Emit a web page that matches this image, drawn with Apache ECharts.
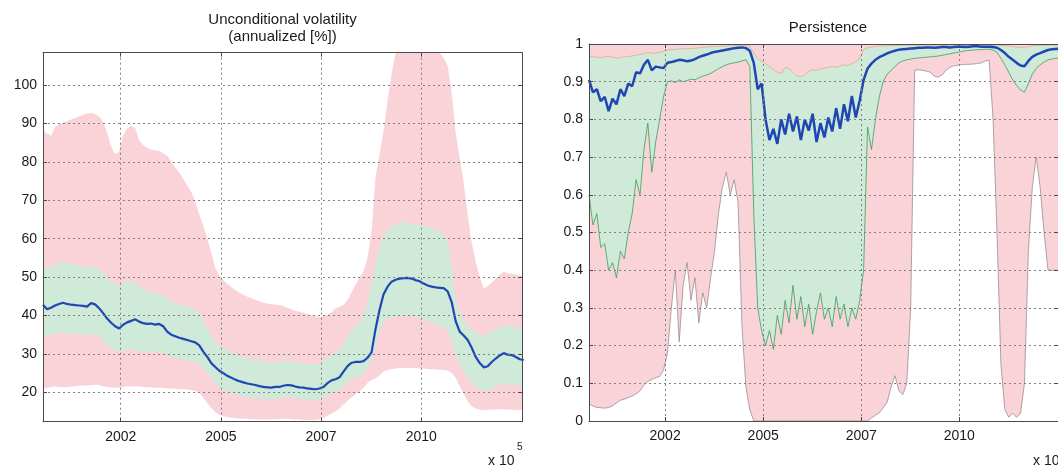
<!DOCTYPE html>
<html>
<head>
<meta charset="utf-8">
<script src="https://cdn.jsdelivr.net/npm/echarts@6/dist/echarts.min.js"></script>
<style>
  html, body { margin: 0; padding: 0; background: #fff; }
  #chart { width: 1058px; height: 468px; }
</style>
</head>
<body>
<div id="chart"></div>
<script>
// Sampling: MATLAB datenum of the first sample and days between samples
const START = 730224;
const STEP = 40;
const X_MIN = 730224;
const X_MAX = 735006;

const xTickValues = [731000, 732000, 733000, 734000];
const xTickLabels = ['2002', '2005', '2007', '2010'];
const volTicks = [20, 30, 40, 50, 60, 70, 80, 90, 100];
const persTicks = [0, 0.1, 0.2, 0.3, 0.4, 0.5, 0.6, 0.7, 0.8, 0.9, 1];

// Unconditional volatility (annualized, %)
const volMid = [
  42.8, 41.6, 42.0, 42.6, 43.0, 43.3, 43.0, 42.8, 42.7, 42.6,
  42.5, 42.3, 43.2, 42.9, 41.9, 40.6, 39.2, 38.1, 37.2, 36.6,
  37.6, 38.2, 38.6, 39.0, 38.4, 38.0, 37.8, 37.9, 37.6, 37.8,
  37.2, 35.8, 35.0, 34.6, 34.2, 33.9, 33.6, 33.3, 33.0, 32.2,
  30.6, 29.2, 27.6, 26.6, 25.6, 25.0, 24.3, 23.8, 23.3, 22.9,
  22.6, 22.3, 22.1, 21.9, 21.6, 21.4, 21.3, 21.2, 21.4, 21.4,
  21.7, 21.9, 21.8, 21.5, 21.3, 21.2, 21.0, 20.9, 20.8, 21.0,
  21.4, 22.4, 23.1, 23.4, 23.9, 25.4, 26.8, 27.7, 27.9, 27.9,
  28.1, 29.0, 30.4, 36.5, 41.5, 45.5, 47.5, 48.8, 49.3, 49.6,
  49.7, 49.8, 49.6, 49.2, 48.9, 48.3, 47.8, 47.5, 47.3, 47.2,
  47.1, 46.3, 43.5, 38.5, 35.8, 34.8, 33.6, 31.6, 29.2, 27.6,
  26.5, 26.8, 27.9, 28.8, 29.6, 30.2, 29.8, 29.7, 29.2, 28.6,
  28.4
];
const volInnerHi = [
  53.2, 52.0, 52.6, 53.3, 53.6, 53.8, 53.5, 53.4, 53.0, 52.8,
  52.6, 52.4, 52.8, 52.5, 52.2, 51.0, 49.6, 48.8, 48.3, 47.8,
  48.6, 48.9, 48.8, 48.6, 47.6, 47.0, 46.2, 45.9, 45.8, 45.6,
  45.2, 44.3, 43.8, 43.2, 42.8, 42.6, 42.4, 42.0, 41.4, 40.4,
  38.6, 36.5, 34.4, 33.0, 32.2, 31.6, 31.0, 30.4, 29.9, 29.5,
  29.2, 28.9, 28.6, 28.4, 28.2, 28.0, 27.8, 27.7, 27.8, 27.9,
  28.1, 28.2, 28.0, 27.9, 27.7, 27.6, 27.4, 27.3, 27.3, 27.6,
  28.0, 29.0, 29.8, 30.4, 31.2, 32.8, 34.6, 36.0, 37.0, 38.0,
  40.0, 43.5, 48.0, 53.5, 58.0, 60.5, 62.0, 63.0, 63.8, 64.2,
  64.4, 64.2, 63.8, 63.6, 63.5, 63.4, 63.0, 62.8, 62.4, 61.8,
  61.2, 59.5, 52.0, 44.0, 40.5, 39.0, 37.6, 36.4, 35.5, 35.0,
  34.8, 35.2, 35.9, 36.5, 37.0, 37.4, 37.3, 37.2, 37.0, 36.7,
  36.5
];
const volInnerLo = [
  35.4, 34.8, 35.0, 35.2, 35.4, 35.5, 35.4, 35.3, 35.2, 35.1,
  35.0, 34.9, 35.2, 35.0, 34.7, 33.4, 32.2, 31.4, 30.9, 30.5,
  30.9, 31.1, 31.1, 31.0, 30.7, 30.6, 30.4, 30.5, 30.4, 30.6,
  30.2, 29.6, 29.2, 28.9, 28.6, 28.4, 28.2, 28.0, 27.8, 27.4,
  26.2, 24.9, 23.6, 22.4, 21.5, 20.8, 20.3, 19.9, 19.5, 19.1,
  18.9, 18.7, 18.6, 18.5, 18.4, 18.3, 18.2, 18.2, 18.3, 18.4,
  18.6, 18.7, 18.6, 18.4, 18.3, 18.2, 18.1, 18.0, 18.0, 18.2,
  18.5, 19.2, 19.8, 20.2, 20.6, 21.6, 22.6, 23.4, 23.8, 24.2,
  24.8, 26.4, 28.4, 32.0, 36.0, 38.2, 39.2, 39.6, 39.8, 40.0,
  40.0, 40.0, 39.8, 39.6, 39.4, 39.0, 38.6, 38.2, 37.8, 37.4,
  36.8, 35.8, 33.0, 29.6, 27.2, 25.5, 23.8, 22.6, 21.6, 20.8,
  20.3, 20.5, 21.0, 21.6, 22.0, 22.3, 22.2, 22.0, 21.9, 21.7,
  21.6
];
const volOuterHi = [
  88.3, 87.4, 86.8, 89.0, 89.8, 90.2, 90.6, 91.0, 91.4, 91.8,
  92.2, 92.6, 92.8, 92.4, 91.8, 90.4, 87.6, 84.0, 82.0, 82.6,
  87.0, 88.6, 89.4, 88.8, 85.6, 84.4, 83.6, 83.2, 83.0, 82.8,
  82.2, 81.6, 80.0, 78.6, 77.2, 75.6, 73.8, 72.2, 69.6, 66.4,
  63.4, 60.0, 56.4, 52.4, 50.4, 49.2, 48.2, 47.4, 46.6, 45.9,
  45.4, 44.9, 44.5, 44.1, 43.7, 43.4, 43.1, 42.9, 42.8, 42.7,
  42.4, 42.0, 41.6, 41.2, 41.0, 40.7, 40.4, 40.1, 39.8, 39.6,
  39.8, 40.2, 40.8, 41.8, 42.2, 42.8, 44.0, 46.0, 48.0, 49.8,
  51.5, 55.0, 62.0, 76.0, 82.0, 88.0, 96.0, 103.0, 108.4, 108.4,
  108.4, 108.4, 108.4, 108.4, 108.4, 108.4, 108.4, 108.4, 108.4, 108.4,
  107.0, 105.0, 98.0, 87.5, 81.0, 74.5, 66.0, 59.0, 54.0, 50.0,
  47.0, 47.6, 48.6, 49.6, 50.6, 51.4, 51.0, 50.8, 50.6, 50.4,
  50.3
];
const volOuterLo = [
  21.0, 21.2, 21.4, 21.5, 21.4, 21.3, 21.4, 21.5, 21.6, 21.7,
  21.8, 21.8, 21.9, 22.0, 21.9, 21.6, 21.4, 21.3, 21.2, 21.2,
  21.4, 21.6, 21.6, 21.5, 21.5, 21.4, 21.3, 21.3, 21.2, 21.2,
  21.1, 21.0, 21.0, 20.9, 20.8, 20.8, 20.7, 20.6, 20.4, 20.0,
  18.6, 17.2, 16.0, 14.8, 14.2, 13.8, 13.6, 13.4, 13.3, 13.2,
  13.1, 13.1, 13.0, 13.0, 12.9, 12.9, 12.9, 12.9, 13.0, 13.0,
  13.1, 13.1, 13.0, 12.9, 12.9, 12.8, 12.8, 12.8, 12.8, 13.0,
  13.3, 13.9, 14.4, 15.0, 15.8, 16.8, 17.8, 18.6, 19.4, 20.2,
  21.2, 22.4, 23.2, 23.6, 24.4, 25.4, 25.8, 26.0, 26.2, 26.3,
  26.3, 26.3, 26.3, 26.3, 26.2, 26.2, 26.1, 26.0, 26.0, 25.9,
  25.8, 25.6, 25.0, 23.8, 21.6, 19.6, 17.6, 16.4, 15.8, 15.5,
  15.4, 15.4, 15.5, 15.5, 15.6, 15.6, 15.5, 15.5, 15.4, 15.4,
  15.4
];

// Persistence
const persMid = [
  0.905, 0.872, 0.880, 0.848, 0.860, 0.822, 0.855, 0.840, 0.880, 0.862,
  0.895, 0.888, 0.925, 0.922, 0.945, 0.958, 0.930, 0.940, 0.938, 0.936,
  0.950, 0.952, 0.955, 0.958, 0.957, 0.954, 0.956, 0.960, 0.965, 0.969,
  0.972, 0.976, 0.979, 0.981, 0.983, 0.985, 0.987, 0.989, 0.990, 0.991,
  0.989, 0.982, 0.950, 0.880, 0.895, 0.800, 0.745, 0.775, 0.735, 0.800,
  0.760, 0.815, 0.768, 0.808, 0.745, 0.800, 0.770, 0.815, 0.740, 0.790,
  0.752, 0.805, 0.768, 0.830, 0.775, 0.840, 0.795, 0.862, 0.805, 0.850,
  0.905, 0.935, 0.948, 0.958, 0.965, 0.970, 0.975, 0.979, 0.982, 0.985,
  0.986, 0.987, 0.988, 0.989, 0.990, 0.990, 0.991, 0.991, 0.990, 0.991,
  0.992, 0.992, 0.991, 0.992, 0.993, 0.993, 0.992, 0.993, 0.994, 0.994,
  0.993, 0.993, 0.993, 0.992, 0.990, 0.984, 0.976, 0.966, 0.958, 0.950,
  0.943, 0.941, 0.955, 0.966, 0.972, 0.976, 0.980, 0.984, 0.986, 0.987,
  0.988
];
const persInnerHi = [
  0.968, 0.966, 0.965, 0.964, 0.966, 0.967, 0.965, 0.963, 0.964, 0.966,
  0.967, 0.968, 0.970, 0.972, 0.975, 0.978, 0.975, 0.976, 0.978, 0.980,
  0.984, 0.985, 0.986, 0.987, 0.987, 0.988, 0.988, 0.989, 0.990, 0.991,
  0.992, 0.993, 0.993, 0.994, 0.994, 0.995, 0.995, 0.996, 0.996, 0.996,
  0.996, 0.994, 0.975, 0.962, 0.955, 0.948, 0.940, 0.932, 0.925, 0.922,
  0.938, 0.935, 0.925, 0.915, 0.913, 0.918, 0.928, 0.932, 0.930, 0.934,
  0.936, 0.938, 0.940, 0.938, 0.942, 0.945, 0.943, 0.948, 0.952, 0.962,
  0.985, 0.990, 0.992, 0.993, 0.994, 0.995, 0.995, 0.996, 0.996, 0.996,
  0.997, 0.997, 0.997, 0.997, 0.997, 0.997, 0.997, 0.997, 0.997, 0.997,
  0.997, 0.997, 0.997, 0.997, 0.997, 0.997, 0.997, 0.997, 0.997, 0.997,
  0.997, 0.997, 0.997, 0.997, 0.997, 0.996, 0.995, 0.994, 0.993, 0.992,
  0.991, 0.991, 0.993, 0.995, 0.996, 0.996, 0.997, 0.997, 0.997, 0.997,
  0.997
];
const persInnerLo = [
  0.60, 0.52, 0.55, 0.46, 0.47, 0.40, 0.42, 0.38, 0.45, 0.43,
  0.50, 0.55, 0.64, 0.60, 0.72, 0.79, 0.66, 0.74, 0.80, 0.86,
  0.900, 0.902, 0.898, 0.905, 0.900, 0.903, 0.907, 0.905, 0.910, 0.915,
  0.918, 0.922, 0.928, 0.935, 0.940, 0.945, 0.948, 0.950, 0.952, 0.955,
  0.958, 0.940, 0.55, 0.30, 0.24, 0.20, 0.24, 0.19, 0.28, 0.23,
  0.32, 0.26, 0.36, 0.27, 0.33, 0.25, 0.31, 0.23, 0.29, 0.34,
  0.27, 0.30, 0.25, 0.33, 0.27, 0.31, 0.25, 0.30, 0.27, 0.32,
  0.40, 0.78, 0.72, 0.80, 0.86, 0.90, 0.92, 0.93, 0.94, 0.950,
  0.955, 0.958, 0.960, 0.962, 0.963, 0.964, 0.965, 0.966, 0.967, 0.968,
  0.970, 0.972, 0.974, 0.976, 0.978, 0.980, 0.982, 0.983, 0.984, 0.985,
  0.985, 0.986, 0.986, 0.984, 0.978, 0.962, 0.945, 0.925, 0.905, 0.890,
  0.878, 0.872, 0.895, 0.920, 0.935, 0.945, 0.952, 0.958, 0.960, 0.962,
  0.963
];
const persOuterHi = [
  1, 1, 1, 1, 1, 1, 1, 1, 1, 1,
  1, 1, 1, 1, 1, 1, 1, 1, 1, 1,
  1, 1, 1, 1, 1, 1, 1, 1, 1, 1,
  1, 1, 1, 1, 1, 1, 1, 1, 1, 1,
  1, 1, 1, 1, 1, 1, 1, 1, 1, 1,
  1, 1, 1, 1, 1, 1, 1, 1, 1, 1,
  1, 1, 1, 1, 1, 1, 1, 1, 1, 1,
  1, 1, 1, 1, 1, 1, 1, 1, 1, 1,
  1, 1, 1, 1, 1, 1, 1, 1, 1, 1,
  1, 1, 1, 1, 1, 1, 1, 1, 1, 1,
  1, 1, 1, 1, 1, 1, 1, 1, 1, 1,
  1, 1, 1, 1, 1, 1, 1, 1, 1, 1,
  1
];
const persOuterLo = [
  0.045, 0.040, 0.036, 0.035, 0.034, 0.036, 0.040, 0.048, 0.055, 0.058,
  0.062, 0.066, 0.072, 0.080, 0.095, 0.105, 0.110, 0.115, 0.118, 0.135,
  0.18, 0.30, 0.40, 0.21, 0.36, 0.42, 0.32, 0.38, 0.26, 0.34,
  0.30, 0.38, 0.45, 0.55, 0.62, 0.66, 0.60, 0.64, 0.58, 0.25,
  0.09, 0.03, 0, 0, 0, 0, 0, 0, 0, 0,
  0, 0, 0, 0, 0, 0, 0, 0, 0, 0,
  0, 0, 0, 0, 0, 0, 0, 0, 0, 0,
  0, 0, 0.008, 0.015, 0.022, 0.035, 0.05, 0.09, 0.12, 0.08,
  0.07, 0.10, 0.30, 0.93, 0.932, 0.930, 0.928, 0.925, 0.915, 0.912,
  0.918, 0.930, 0.938, 0.942, 0.944, 0.945, 0.946, 0.946, 0.947, 0.948,
  0.950, 0.955, 0.957, 0.80, 0.50, 0.15, 0.03, 0.01, 0.02, 0.01,
  0.02, 0.10, 0.45, 0.62, 0.70, 0.62, 0.50, 0.40, 0.40, 0.40,
  0.40
];

const FONT = '"Liberation Sans", Arial, Helvetica, sans-serif';
const PINK = '#fad3d8';
const GREEN = '#cfead8';
const BLUE = '#1e47b4';
const AXIS = '#4a4a4a';
const GRIDLINE = { type: [2, 3], color: '#808080', width: 1 };

const pts = arr => arr.map((v, i) => [START + STEP * i, v]);

// A filled area reaching down to the bottom of the axis; painted in order
// outer-high, inner-high, inner-low, outer-low to produce the nested bands.
function fill(data, ax, color, edge) {
  return {
    type: 'line', xAxisIndex: ax, yAxisIndex: ax, data: pts(data),
    symbol: 'none', silent: true, z: 2,
    lineStyle: edge ? { color: edge.color, width: edge.width } : { opacity: 0 },
    areaStyle: { color: color, opacity: 1, origin: 'start' }
  };
}

function xAxisPair(gridIndex) {
  const ticks = { show: true, inside: true, length: 4, customValues: xTickValues, lineStyle: { color: AXIS } };
  return [
    {
      type: 'value', gridIndex, position: 'bottom', min: X_MIN, max: X_MAX, z: 10,
      axisLine: { show: true, onZero: false, lineStyle: { color: AXIS, width: 1 } },
      axisTick: ticks,
      axisLabel: {
        customValues: xTickValues, color: '#1a1a1a', fontSize: 14, fontFamily: FONT, margin: 8,
        formatter: v => xTickLabels[xTickValues.indexOf(v)]
      },
      splitLine: { show: true, lineStyle: GRIDLINE }
    },
    {
      type: 'value', gridIndex, position: 'top', min: X_MIN, max: X_MAX, z: 10,
      axisLine: { show: true, onZero: false, lineStyle: { color: AXIS, width: 1 } },
      axisTick: ticks, axisLabel: { show: false }, splitLine: { show: false }
    }
  ];
}

function yAxisPair(gridIndex, min, max, tickValues) {
  const ticks = { show: true, inside: true, length: 4, customValues: tickValues, lineStyle: { color: AXIS } };
  return [
    {
      type: 'value', gridIndex, position: 'left', min, max, z: 10,
      axisLine: { show: true, onZero: false, lineStyle: { color: AXIS, width: 1 } },
      axisTick: ticks,
      axisLabel: { customValues: tickValues, color: '#1a1a1a', fontSize: 14, fontFamily: FONT, margin: 6, formatter: v => String(v) },
      splitLine: { show: true, lineStyle: GRIDLINE }
    },
    {
      type: 'value', gridIndex, position: 'right', min, max, z: 10,
      axisLine: { show: true, onZero: false, lineStyle: { color: AXIS, width: 1 } },
      axisTick: ticks, axisLabel: { show: false }, splitLine: { show: false }
    }
  ];
}

const chart = echarts.init(document.getElementById('chart'), null, { renderer: 'canvas' });

chart.setOption({
  animation: false,
  backgroundColor: '#fff',
  grid: [
    { left: 43, top: 52.7, width: 479, height: 369 },
    { left: 589, top: 44, width: 478, height: 377 }
  ],
  xAxis: [...xAxisPair(0), ...xAxisPair(1)],
  yAxis: [
    ...yAxisPair(0, 12.35, 108.4, volTicks),
    ...yAxisPair(1, 0, 1, persTicks)
  ],
  series: [
    // Unconditional volatility
    fill(volOuterHi, 0, PINK),
    fill(volInnerHi, 0, GREEN),
    fill(volInnerLo, 0, PINK),
    fill(volOuterLo, 0, '#ffffff'),
    {
      type: 'line', xAxisIndex: 0, yAxisIndex: 0, data: pts(volMid), symbol: 'none', z: 3,
      lineStyle: { color: BLUE, width: 2.2 }
    },
    // Persistence
    fill(persOuterHi, 2, PINK),
    fill(persInnerHi, 2, GREEN, { color: 'rgba(225,150,110,0.7)', width: 0.8 }),
    fill(persInnerLo, 2, PINK, { color: 'rgba(40,160,80,0.75)', width: 1 }),
    fill(persOuterLo, 2, '#ffffff', { color: 'rgba(130,120,125,0.8)', width: 0.8 }),
    {
      type: 'line', xAxisIndex: 2, yAxisIndex: 2, data: pts(persMid), symbol: 'none', z: 3,
      lineStyle: { color: BLUE, width: 2.5 }
    }
  ],
  graphic: [
    { type: 'text', x: 282.5, y: 20, style: { text: 'Unconditional volatility', font: '15px ' + FONT, fill: '#1a1a1a', textAlign: 'center', textVerticalAlign: 'middle' } },
    { type: 'text', x: 282.5, y: 37, style: { text: '(annualized [%])', font: '15px ' + FONT, fill: '#1a1a1a', textAlign: 'center', textVerticalAlign: 'middle' } },
    { type: 'text', x: 828, y: 28, style: { text: 'Persistence', font: '15px ' + FONT, fill: '#1a1a1a', textAlign: 'center', textVerticalAlign: 'middle' } },
    { type: 'text', x: 488, y: 461, style: { text: 'x 10', font: '14px ' + FONT, fill: '#1a1a1a', textAlign: 'left', textVerticalAlign: 'middle' } },
    { type: 'text', x: 517, y: 447, style: { text: '5', font: '10px ' + FONT, fill: '#1a1a1a', textAlign: 'left', textVerticalAlign: 'middle' } },
    { type: 'text', x: 1033, y: 461, style: { text: 'x 10', font: '14px ' + FONT, fill: '#1a1a1a', textAlign: 'left', textVerticalAlign: 'middle' } },
    { type: 'text', x: 1062, y: 447, style: { text: '5', font: '10px ' + FONT, fill: '#1a1a1a', textAlign: 'left', textVerticalAlign: 'middle' } }
  ]
});
</script>
</body>
</html>
